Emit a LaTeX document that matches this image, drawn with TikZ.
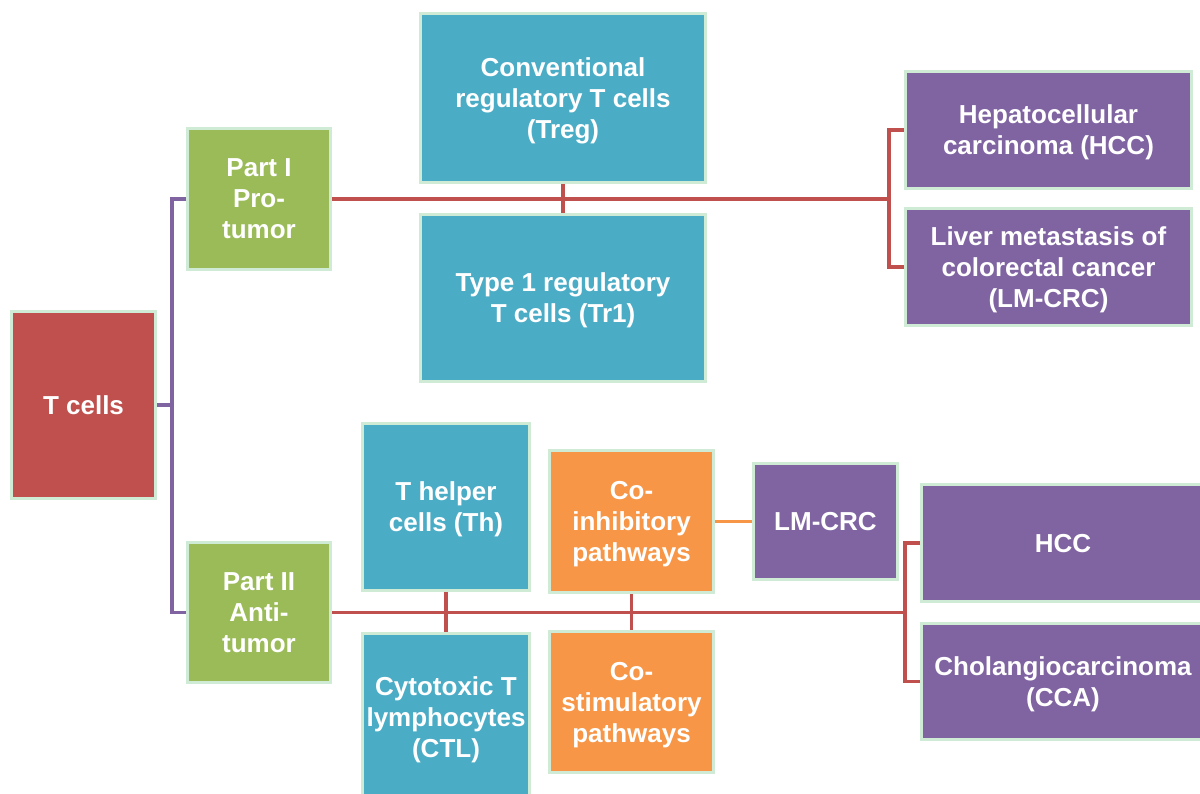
\documentclass[tikz,border=0pt]{standalone}
\usepackage{fontspec}
\setmainfont{Liberation Sans}
\definecolor{cred}{HTML}{C0504D}
\definecolor{cgreen}{HTML}{9BBB59}
\definecolor{cteal}{HTML}{4BACC6}
\definecolor{cpurple}{HTML}{8064A2}
\definecolor{corange}{HTML}{F79646}
\definecolor{cborder}{HTML}{CFEAD5}
\tikzset{
  box/.style={draw=cborder, line width=3pt, text=white, align=center, inner sep=0pt,
    text depth=0pt, font=\bfseries\fontsize{26}{31}\selectfont},
  pline/.style={draw=cpurple, line width=3.2pt},
  rline/.style={draw=cred, line width=3.2pt},
  oline/.style={draw=corange, line width=3.2pt}
}
\begin{document}
\begin{tikzpicture}[x=1pt,y=-1pt]
\useasboundingbox (0,0) rectangle (1200,794);
% connectors first (behind boxes)
\coordinate (pj) at (172,405);
\coordinate (rj1) at (889,199);
\coordinate (rj2) at (905,612.5);
\node[box, fill=cred, minimum width=144, minimum height=187] (tc) at (83.5,405) {T cells};
\node[box, fill=cgreen, minimum width=143, minimum height=141] (p1) at (259,199) {Part I\\Pro-\\tumor};
\node[box, fill=cgreen, minimum width=143, minimum height=140] (p2) at (259,612.5) {Part II\\Anti-\\tumor};
\node[box, fill=cteal, minimum width=285, minimum height=169] (treg) at (563,98) {Conventional\\regulatory T cells\\(Treg)};
\node[box, fill=cteal, minimum width=285, minimum height=167] (tr1) at (563,298) {Type 1 regulatory\\T cells (Tr1)};
\node[box, fill=cpurple, minimum width=286, minimum height=117] (hcc1) at (1048.5,130) {Hepatocellular\\carcinoma (HCC)};
\node[box, fill=cpurple, minimum width=286, minimum height=117] (lm1) at (1048.5,267) {Liver metastasis of\\colorectal cancer\\(LM-CRC)};
\node[box, fill=cteal, minimum width=167, minimum height=167] (th) at (446,507) {T helper\\cells (Th)};
\node[box, fill=cteal, minimum width=167, minimum height=167] (ctl) at (446,717) {Cytotoxic T\\lymphocytes\\(CTL)};
\node[box, fill=corange, minimum width=164, minimum height=142] (coi) at (631.5,521.5) {Co-\\inhibitory\\pathways};
\node[box, fill=corange, minimum width=164, minimum height=141] (cos) at (631.5,702) {Co-\\stimulatory\\pathways};
\node[box, fill=cpurple, minimum width=144, minimum height=116] (lm2) at (825.5,521.5) {LM-CRC};
\node[box, fill=cpurple, minimum width=283, minimum height=117] (hcc2) at (1063,543) {HCC};
\node[box, fill=cpurple, minimum width=283, minimum height=116] (cca) at (1063,681.5) {Cholangiocarcinoma\\(CCA)};
% purple connectors
\draw[pline] (tc.east) -- (pj);
\draw[pline] (p1.west) -| (pj);
\draw[pline] (p2.west) -| (pj);
% red top
\draw[rline] (p1.east) -- (rj1);
\draw[rline] (hcc1.west) -| (rj1);
\draw[rline] (lm1.west) -| (rj1);
\draw[rline] (treg.south) -- (tr1.north);
% red bottom
\draw[rline] (p2.east) -- (rj2);
\draw[rline] (hcc2.west) -| (rj2);
\draw[rline] (cca.west) -| (rj2);
\draw[rline] (th.south) -- (ctl.north);
\draw[rline] (coi.south) -- (cos.north);
% orange
\draw[oline] (coi.east) -- (lm2.west);
\end{tikzpicture}
\end{document}
